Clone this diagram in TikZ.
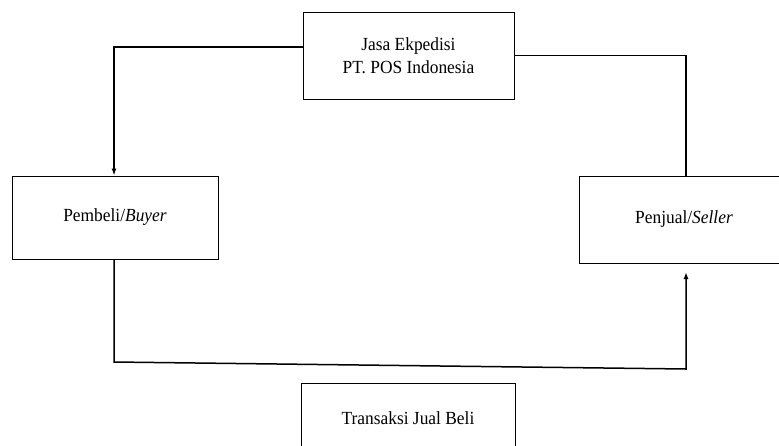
\documentclass[tikz,border=0pt]{standalone}
\usepackage{fontspec}
\setmainfont{Liberation Serif}[FakeStretch=0.94]
\usepackage{tikz}
\usetikzlibrary{arrows.meta}
\usetikzlibrary{calc}
\tikzstyle{ekbox} = [draw=black, fill=white, line width=0.9pt,
rectangle, align=center, inner sep=2pt, font=\fontsize{18.5}{23}\selectfont]
\tikzstyle{flow} = [draw=black, line width=1.5pt]

\begin{document}
\begin{tikzpicture}[x=1pt, y=1pt]
        \useasboundingbox (0,0) rectangle (779,-445);
        \node [ekbox, minimum width=211pt, minimum height=87pt] (ekspedisi) at (408.5,-55.5) {Jasa Ekpedisi\\PT. POS Indonesia};
        \node [ekbox, minimum width=206pt, minimum height=83pt] (pembeli) at (115,-217.5) {Pembeli/\textit{Buyer}};
        \node [ekbox, minimum width=210pt, minimum height=87pt] (penjual) at (684,-219.5) {Penjual/\textit{Seller}};
        \node [ekbox, minimum width=214pt, minimum height=70pt] (transaksi) at (408,-418) {Transaksi Jual Beli};
        % corners of the lower line
        \coordinate (kiri) at (114,-362);
        \coordinate (kanan) at (686,-369);
        \coordinate (ujung) at (686,-272);
        \draw [flow, -{Latex[length=7pt,width=5pt]}] ([yshift=8.5pt]ekspedisi.west) -| ([xshift=-1pt]pembeli.north);
        \draw [flow] (ekspedisi.east) -| ([xshift=2pt]penjual.north);
        \draw [flow, -{Latex[length=7pt,width=5pt]}] ([xshift=-1pt]pembeli.south) -- (kiri) -- (kanan) -- (ujung);
    \end{tikzpicture}
\end{document}
